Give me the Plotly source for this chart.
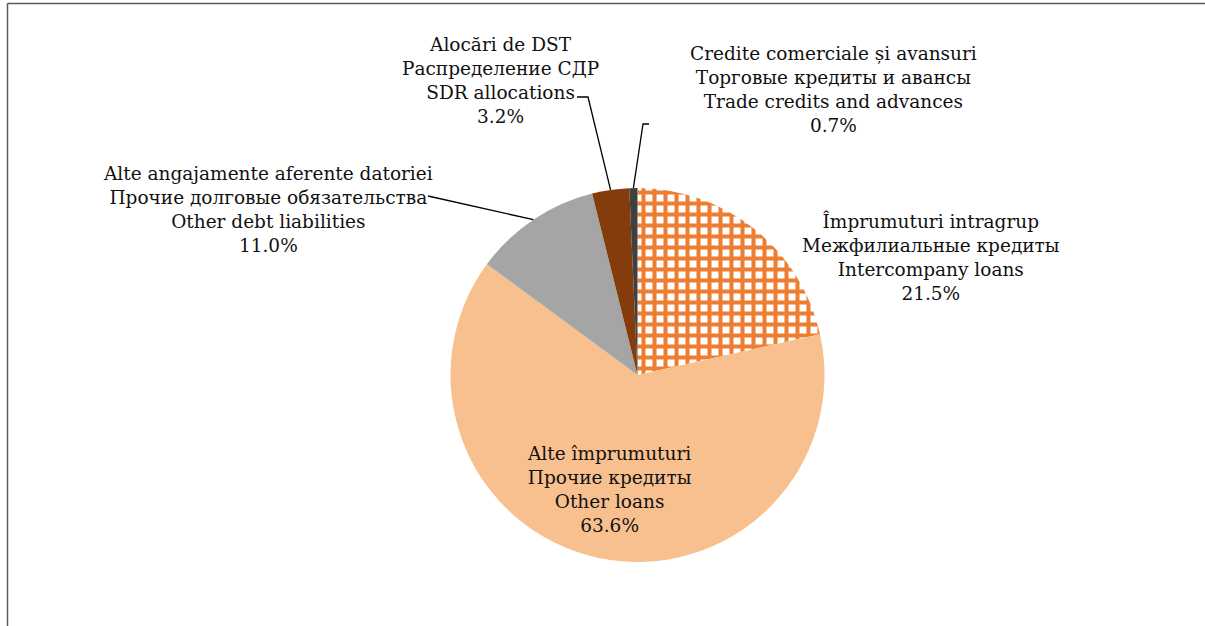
import math
import plotly.graph_objects as go

# ---- data (slice order as drawn, clockwise from 12 o'clock) ----
labels_ro = ["Împrumuturi intragrup", "Alte împrumuturi", "Alte angajamente aferente datoriei",
             "Alocări de DST", "Credite comerciale și avansuri"]
labels_ru = ["Межфилиальные кредиты", "Прочие кредиты", "Прочие долговые обязательства",
             "Распределение СДР", "Торговые кредиты и авансы"]
labels_en = ["Intercompany loans", "Other loans", "Other debt liabilities",
             "SDR allocations", "Trade credits and advances"]
shares = [21.5, 63.6, 11.0, 3.2, 0.7]

colors = ["#ED7D31", "#F9C08F", "#A5A5A5", "#843C0C", "#404040"]

# ---- page geometry (pixels) ----
W, H = 1205, 626
CX, CY, R = 637.5, 375, 187
FONT = dict(family="DejaVu Serif", size=18.5, color="#111111")

# label centres and leader elbows, in pixels
label_pos = [(931, 257), (609, 490), (268, 209), (500, 81), (833, 89)]
leader_pts = [None, None, [(428, 196)], [(588, 97), (577, 97)], [(643, 124), (649, 124)]]


def px(x, y):
    return x / W, 1 - y / H


def rim_point(i):
    # middle of slice i on the rim, from the cumulative shares
    total = sum(shares)
    start = sum(shares[:i])
    ang = 2 * math.pi * (start + shares[i] / 2) / total
    return CX + R * math.sin(ang), CY - R * math.cos(ang)


fig = go.Figure(go.Pie(
    labels=labels_en,
    values=shares,
    sort=False,
    direction="clockwise",
    rotation=0,
    textinfo="none",
    hoverinfo="label+percent",
    marker=dict(
        colors=colors,
        line=dict(width=0),
        pattern=dict(shape=["+", "", "", "", ""], fgcolor=["#ED7D31"] * 5,
                     bgcolor=["#FFFFFF", colors[1], colors[2], colors[3], colors[4]],
                     size=11, solidity=0.6, fillmode="replace"),
    ),
    domain=dict(x=[(CX - R) / W, (CX + R) / W], y=[1 - (CY + R) / H, 1 - (CY - R) / H]),
    showlegend=False,
))

annotations = []
shapes = []
for i in range(len(shares)):
    x, y = px(*label_pos[i])
    annotations.append(dict(
        x=x, y=y, xref="paper", yref="paper", showarrow=False,
        text="<br>".join([labels_ro[i], labels_ru[i], labels_en[i], f"{shares[i]:.1f}%"]),
        font=FONT, align="center", xanchor="center", yanchor="middle",
    ))
    if leader_pts[i]:
        pts = [rim_point(i)] + leader_pts[i]
        path = "M " + " L ".join(f"{px(a, b)[0]},{px(a, b)[1]}" for a, b in pts)
        shapes.append(dict(type="path", xref="paper", yref="paper", path=path,
                           line=dict(color="#000000", width=1.3)))

# frame lines (chart area border)
shapes.append(dict(type="line", xref="paper", yref="paper", x0=7.5 / W, x1=1, y0=1 - 3.5 / H, y1=1 - 3.5 / H,
                   line=dict(color="#595959", width=1.5)))
shapes.append(dict(type="line", xref="paper", yref="paper", x0=7.5 / W, x1=7.5 / W, y0=0, y1=1 - 3.5 / H,
                   line=dict(color="#595959", width=1.5)))

fig.update_layout(
    width=W, height=H,
    margin=dict(l=0, r=0, t=0, b=0),
    paper_bgcolor="#FFFFFF",
    plot_bgcolor="#FFFFFF",
    annotations=annotations,
    shapes=shapes,
)

fig.write_html("out.html", config={"displayModeBar": False},
               post_script="document.body.style.margin='0';document.body.style.overflow='hidden';")
